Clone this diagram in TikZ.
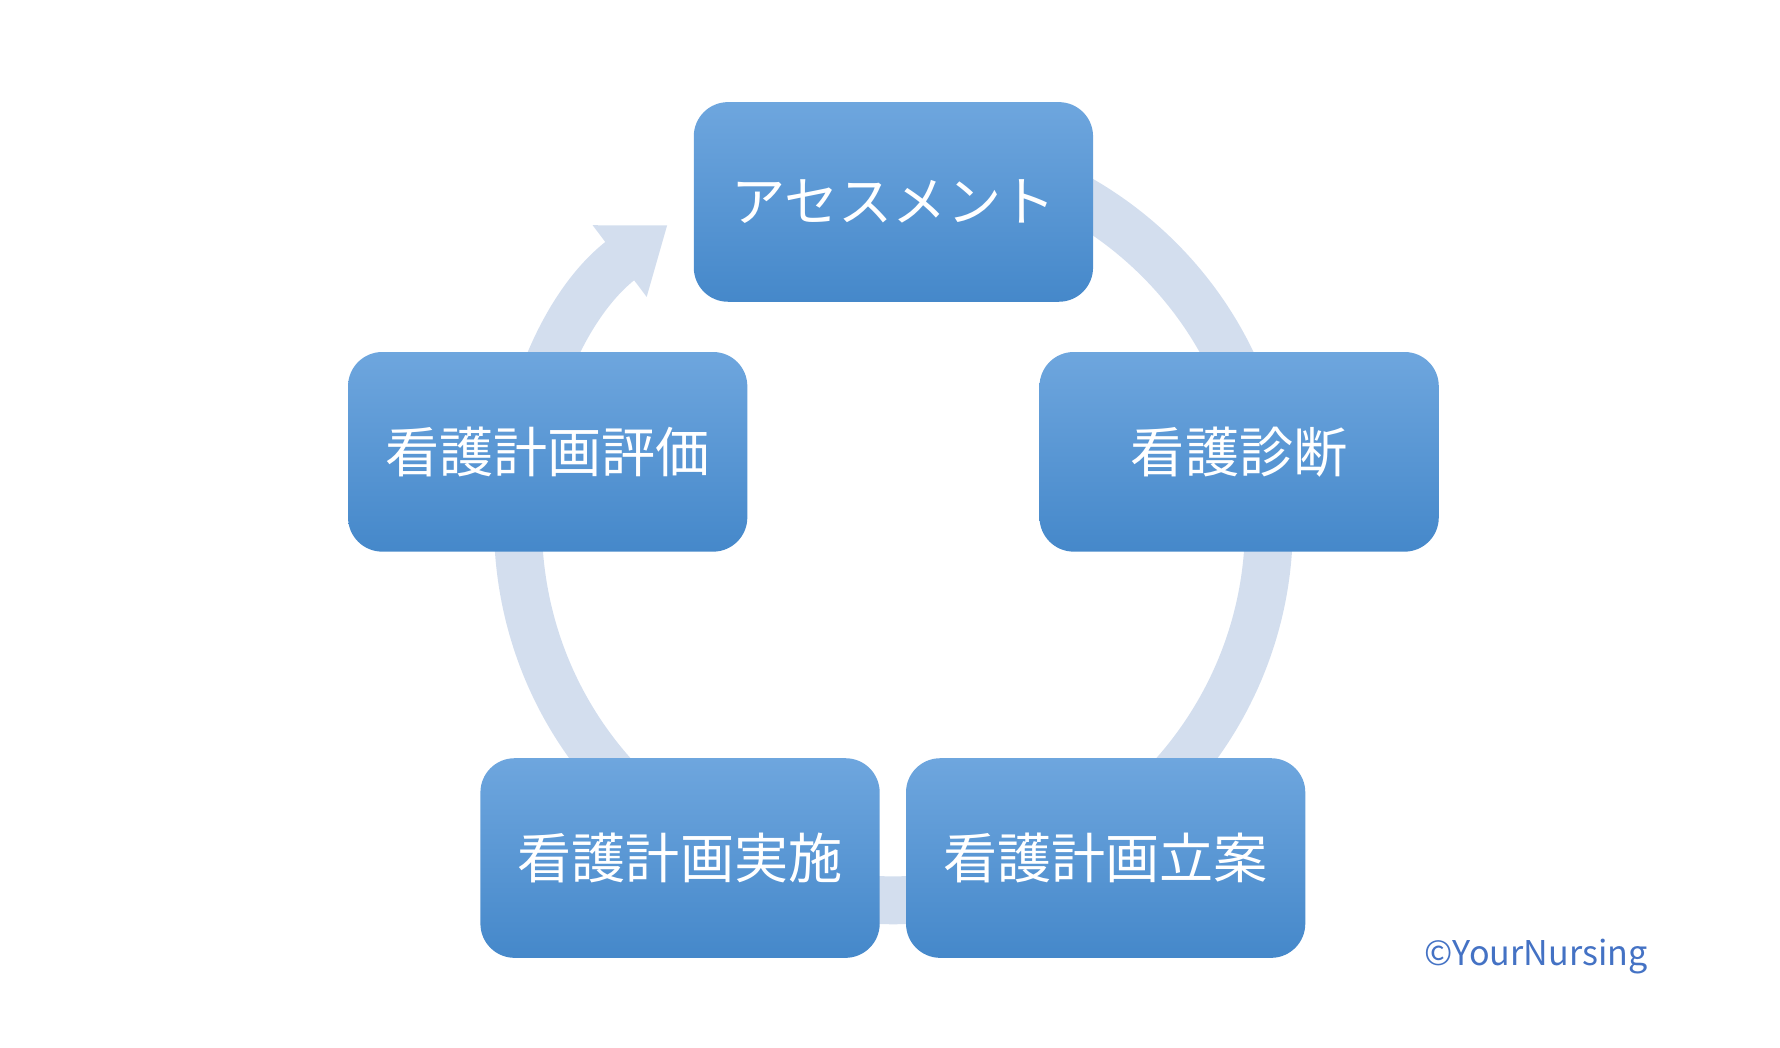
\documentclass[tikz,border=0pt]{standalone}
\usepackage{fontspec}
\newfontfamily\cjk{Noto Sans CJK JP}
\usetikzlibrary{arrows.meta}
\definecolor{ringblue}{HTML}{D3DEEE}
\definecolor{boxtop}{HTML}{6EA6DE}
\definecolor{boxbot}{HTML}{4588CA}
\definecolor{markblue}{HTML}{4472C4}
\tikzset{%
  tipR/.tip={Triangle[width=1.5cm,length=1.05cm]},
  stage/.style={rounded corners=0.6cm, minimum width=7cm, minimum height=3.5cm,
    top color=boxtop, bottom color=boxbot, draw=none, text=white,
    font=\cjk\fontsize{27}{30}\selectfont}
}
\begin{document}
\begin{tikzpicture}[x=0.02cm,y=0.02cm]
\useasboundingbox (0,0) rectangle (1560,918);
% ring behind the boxes
\coordinate (c) at (783,458);
\draw[ringblue, line width=0.84cm, -tipR] ([shift={(100:329)}]c) arc[start angle=100, end angle=-233, radius=329];
% stages
\node[stage] (assess) at (783,741) {アセスメント};
\node[stage] (diag) at (1086,522) {看護診断};
\node[stage] (plan) at (969,166) {看護計画立案};
\node[stage] (impl) at (596,166) {看護計画実施};
\node[stage] (eval) at (480,522) {看護計画評価};
\node[text=markblue, font=\cjk\fontsize{17}{20}\selectfont] (mark) at (1346,80) {©YourNursing};
\end{tikzpicture}
\end{document}
